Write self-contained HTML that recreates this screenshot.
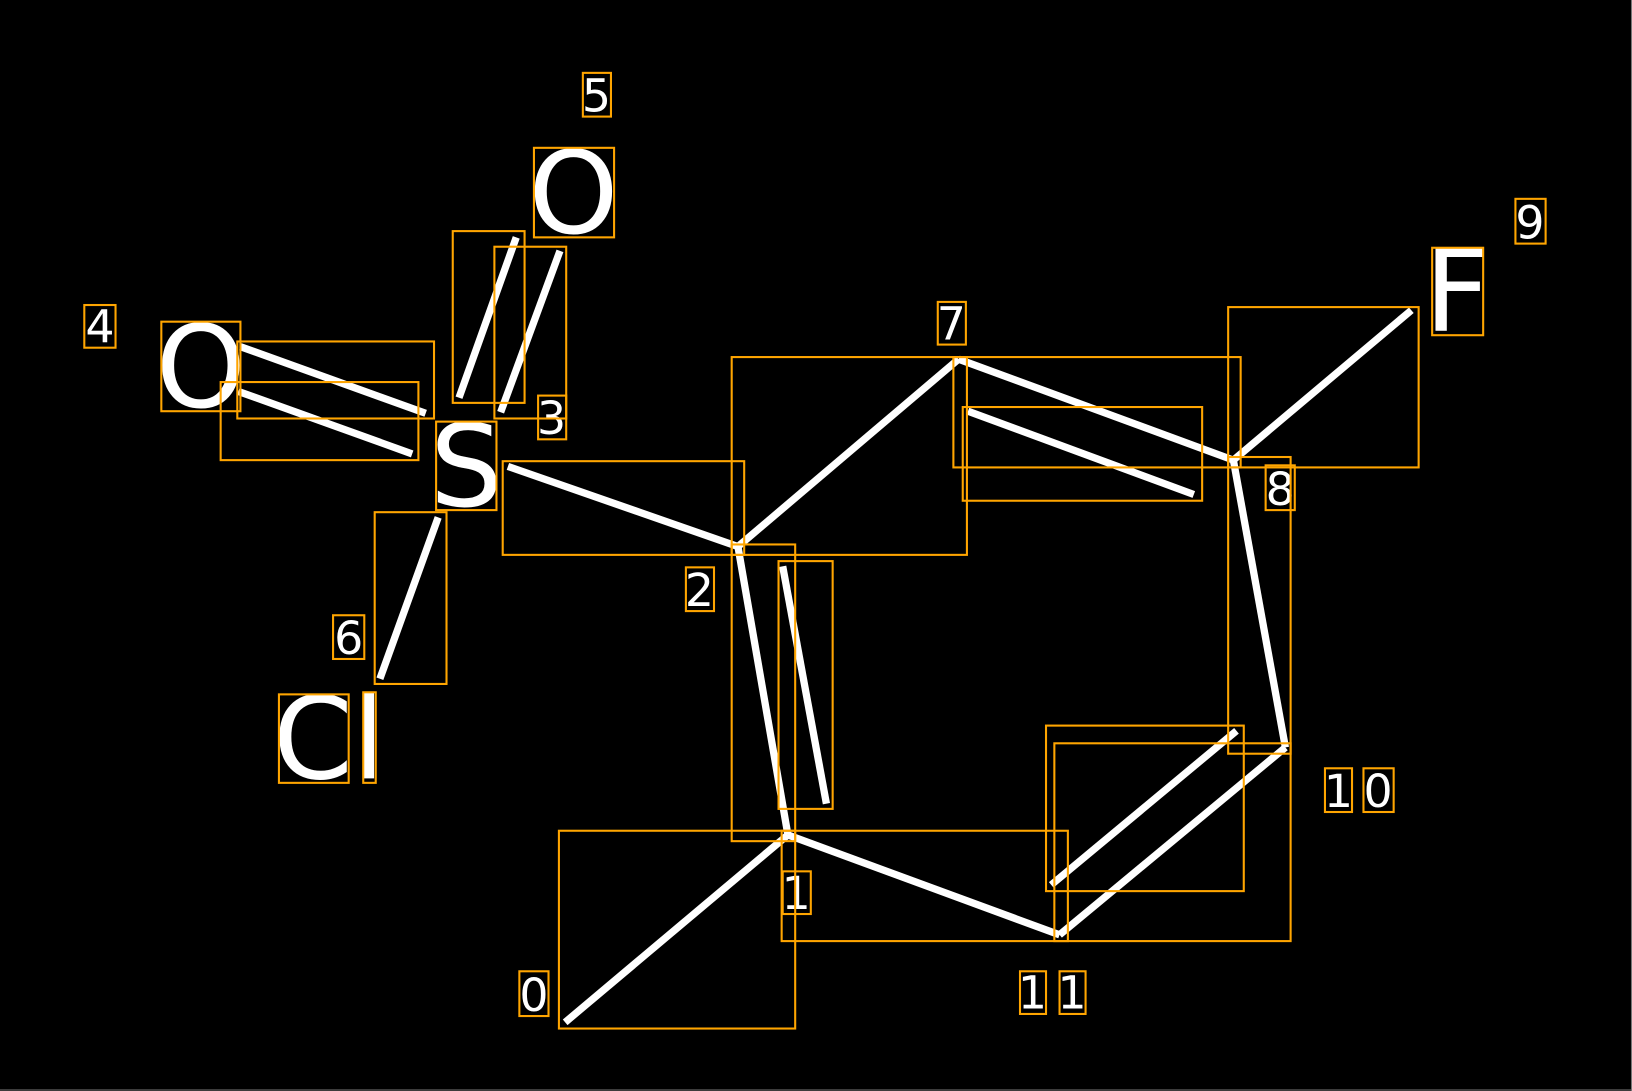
<!DOCTYPE html>
<html><head><style>html,body{margin:0;padding:0;background:#000;width:1632px;height:1091px;overflow:hidden}</style></head>
<body>
<svg width="1632" height="1091" viewBox="0 0 1568 1048" preserveAspectRatio="none" xmlns="http://www.w3.org/2000/svg" style="display:block">
<rect x="0" y="0" width="1568" height="1048" fill="#000"/>
<line x1="0" y1="1047" x2="1568" y2="1047" stroke="#777" stroke-width="1"/>
<line x1="1567.5" y1="0" x2="1567.5" y2="1048" stroke="#777" stroke-width="1"/>
<g stroke="#fff" stroke-width="7">
<line x1="543" y1="982" x2="757" y2="802"/>
<line x1="757" y1="802" x2="1018" y2="898"/>
<line x1="1018" y1="898" x2="1235" y2="718"/>
<line x1="1010" y1="850" x2="1188" y2="702"/>
<line x1="1235" y1="718" x2="1185" y2="442"/>
<line x1="1185" y1="442" x2="1356" y2="298"/>
<line x1="1185" y1="442" x2="921" y2="345"/>
<line x1="930" y1="395" x2="1147" y2="475"/>
<line x1="921" y1="345" x2="709" y2="525"/>
<line x1="709" y1="525" x2="757" y2="802"/>
<line x1="752" y1="544" x2="794" y2="772"/>
<line x1="709" y1="525" x2="488" y2="448"/>
<line x1="421" y1="497" x2="365" y2="652"/>
<line x1="441" y1="382" x2="496" y2="228"/>
<line x1="481" y1="396" x2="538" y2="241"/>
<line x1="231" y1="333" x2="409" y2="397"/>
<line x1="229" y1="376" x2="396" y2="436"/>
</g>
<g fill="#fff" font-family="DejaVu Sans, Liberation Sans, sans-serif" text-anchor="middle">
<g font-size="44">
<text x="573" y="107">5</text>
<text x="530" y="417">3</text>
<text x="96" y="329">4</text>
<text x="335" y="628">6</text>
<text x="914" y="326">7</text>
<text x="1470" y="229">9</text>
<text x="1230" y="485">8</text>
<text x="672" y="582">2</text>
<text x="1286" y="775">1</text>
<text x="1324" y="775">0</text>
<text x="765" y="873">1</text>
<text x="513" y="971">0</text>
<text x="992" y="969">1</text>
<text x="1030" y="969">1</text>
</g>
<g font-size="110">
<text x="551" y="224">O</text>
<text x="193" y="391">O</text>
<text x="448" y="486">S</text>
<text x="316" y="748">Cl</text>
<text x="1400" y="318">F</text>
</g>
</g>
<g fill="none" stroke="#FFA500" stroke-width="2">
<rect x="560" y="70" width="27" height="42"/>
<rect x="513" y="142" width="77" height="86"/>
<rect x="435" y="222" width="69" height="165"/>
<rect x="475" y="237" width="69" height="165"/>
<rect x="517" y="380" width="27" height="42"/>
<rect x="81" y="293" width="30" height="41"/>
<rect x="155" y="309" width="76" height="86"/>
<rect x="228" y="328" width="189" height="74"/>
<rect x="212" y="367" width="190" height="75"/>
<rect x="419" y="405" width="58" height="85"/>
<rect x="483" y="443" width="232" height="90"/>
<rect x="360" y="492" width="69" height="165"/>
<rect x="320" y="591" width="30" height="42"/>
<rect x="268" y="667" width="67" height="85"/>
<rect x="349" y="665" width="12" height="87"/>
<rect x="901" y="290" width="27" height="41"/>
<rect x="703" y="343" width="226" height="190"/>
<rect x="916" y="343" width="276" height="106"/>
<rect x="925" y="391" width="230" height="90"/>
<rect x="1180" y="295" width="183" height="154"/>
<rect x="1376" y="238" width="49" height="84"/>
<rect x="1456" y="191" width="29" height="43"/>
<rect x="1216" y="447" width="28" height="43"/>
<rect x="1180" y="439" width="60" height="285"/>
<rect x="659" y="545" width="27" height="42"/>
<rect x="703" y="523" width="61" height="285"/>
<rect x="748" y="539" width="52" height="238"/>
<rect x="1273" y="738" width="26" height="42"/>
<rect x="1310" y="738" width="29" height="42"/>
<rect x="1005" y="697" width="190" height="159"/>
<rect x="1013" y="714" width="227" height="190"/>
<rect x="537" y="798" width="227" height="190"/>
<rect x="751" y="798" width="275" height="106"/>
<rect x="752" y="837" width="27" height="41"/>
<rect x="499" y="933" width="28" height="43"/>
<rect x="980" y="933" width="25" height="41"/>
<rect x="1018" y="933" width="25" height="41"/>
</g>
</svg>
</body></html>
